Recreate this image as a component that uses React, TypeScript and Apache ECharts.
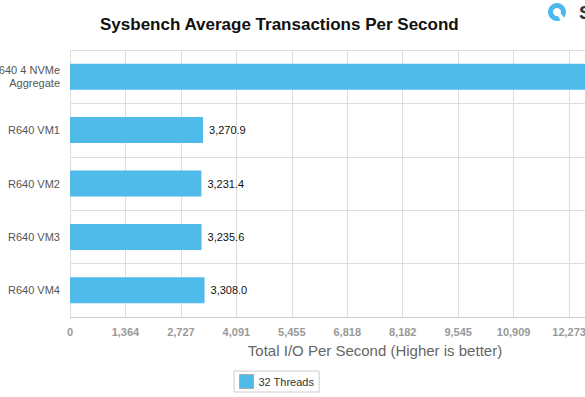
import React, { useEffect, useRef } from "react";
import * as echarts from "echarts";

const categories = ["R640 4 NVMe\nAggregate", "R640 VM1", "R640 VM2", "R640 VM3", "R640 VM4"];
const threads32 = [13045.9, 3270.9, 3231.4, 3235.6, 3308.0];
const axisMax = 15000;
const tickCount = 11;

export default function App() {
  const ref = useRef<HTMLDivElement>(null);
  useEffect(() => {
    if (!ref.current) return;
    const chart = echarts.init(ref.current, null, { renderer: "svg" });
    chart.setOption({
      animation: false,
      backgroundColor: "#fff",
      title: {
        text: "Sysbench Average Transactions Per Second",
        left: 95,
        top: 11,
        textStyle: { fontFamily: "Liberation Sans", fontSize: 17, fontWeight: "bold", color: "#111" },
      },
      legend: {
        left: 234,
        top: 371,
        data: ["32 Threads"],
        itemWidth: 14,
        itemHeight: 14,
        itemGap: 5,
        padding: [3, 5, 3, 5],
        borderColor: "#ccc",
        borderWidth: 1,
        textStyle: { fontFamily: "Liberation Sans", fontSize: 11, color: "#333" },
        itemStyle: { borderColor: "#aaa", borderWidth: 1 },
        icon: "rect",
      },
      grid: { left: 70, right: 20, top: 50, bottom: 397 - 317, outerBoundsMode: "none", containLabel: false },
      xAxis: {
        type: "value",
        min: 0,
        max: axisMax,
        interval: axisMax / tickCount,
        name: "Total I/O Per Second (Higher is better)",
        nameLocation: "middle",
        nameGap: 26,
        nameTextStyle: { fontFamily: "Liberation Sans", fontSize: 15, color: "#666" },
        axisLine: { show: true, lineStyle: { color: "#ccc" } },
        axisTick: { show: false },
        axisLabel: {
          color: "#999",
          fontWeight: "bold",
          fontFamily: "Liberation Sans",
          fontSize: 11,
          margin: 9,
          formatter: (v: number) => Math.round(v).toLocaleString("en-US"),
        },
        splitLine: { show: true, lineStyle: { color: "#ddd" } },
      },
      yAxis: {
        type: "category",
        inverse: true,
        data: categories,
        axisLine: { show: false },
        axisTick: { show: false },
        axisLabel: { color: "#555", fontFamily: "Liberation Sans", fontSize: 11, margin: 10, lineHeight: 13 },
        splitLine: { show: true, interval: 0, lineStyle: { color: "#ddd" } },
      },
      series: [
        {
          name: "32 Threads",
          type: "bar",
          data: threads32,
          barWidth: 26,
          itemStyle: { color: "#4FBBEB" },
          label: {
            show: true,
            position: "right",
            distance: 6,
            color: "#111",
            fontFamily: "Liberation Sans",
            fontSize: 11,
            formatter: (p: any) =>
              Number(p.value).toLocaleString("en-US", { minimumFractionDigits: 1, maximumFractionDigits: 1 }),
          },
        },
      ],
      graphic: [
        { type: "circle", shape: { cx: 557, cy: 12, r: 9 }, style: { fill: "#4DB8EC" } },
        { type: "circle", shape: { cx: 557, cy: 12, r: 4 }, style: { fill: "#fff" } },
        { type: "rect", shape: { x: 559, y: 14, width: 4, height: 6 }, rotation: 0.6, originX: 561, originY: 17, style: { fill: "#fff" } },
        { type: "text", x: 579, y: 3, style: { text: "S", fontFamily: "Liberation Sans", fontSize: 19, fontWeight: "bold", fill: "#333" } },
      ],
    });
    return () => chart.dispose();
  }, []);
  return (
    <div style={{ position: "fixed", left: 0, top: 0, width: 585, height: 397, overflow: "hidden", background: "#fff" }}>
      <div ref={ref} style={{ width: 700, height: 397 }} />
    </div>
  );
}
